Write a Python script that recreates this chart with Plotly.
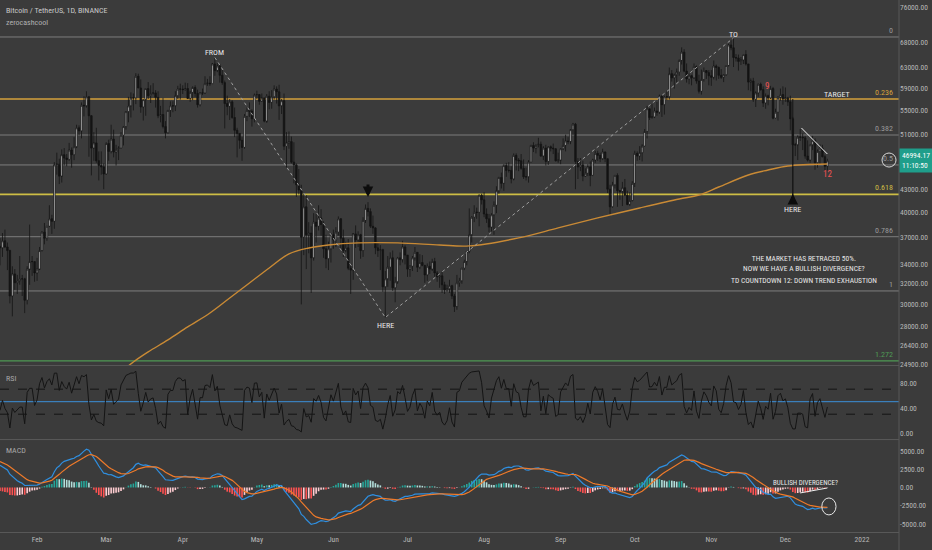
import math
import numpy as np
import pandas as pd
import plotly.graph_objects as go
from plotly.subplots import make_subplots

# ---------------- DATA (BTC/USDT daily, thousands of USDT) ----------------
# warm-up closes 2020-12-01 .. 2021-01-16 (off-screen, used for RSI/MACD)
warm_close_k = [18.76, 19.20, 19.42, 18.65, 19.15, 19.36, 19.17, 18.32, 18.55, 18.26,
                18.04, 18.81, 19.17, 19.27, 19.43, 21.34, 22.80, 23.11, 23.82, 23.46,
                22.72, 23.81, 23.22, 23.73, 24.71, 26.44, 26.25, 27.04, 27.37, 28.88,
                28.92, 29.33, 32.18, 33.00, 31.99, 33.95, 36.77, 39.43, 40.58, 40.15,
                38.16, 35.40, 34.05, 37.37, 39.14, 36.74, 35.99]

# visible candles 2021-01-17 .. 2021-12-18
close_k = [
    35.8, 36.6, 35.9, 35.5, 30.8, 33.0, 32.1, 32.3, 32.5, 32.5, 30.4, 33.5, 34.3, 34.3, 33.1,
    33.5, 35.5, 37.6, 36.9, 38.3, 39.2, 38.9, 46.4, 46.5, 44.8, 47.9, 47.4, 47.2, 48.6, 47.9,
    49.1, 52.1, 51.6, 55.9, 55.8, 57.4, 54.1, 48.9, 49.7, 47.0, 46.3, 46.1, 45.1,
    49.6, 48.4, 50.3, 48.3, 48.7, 48.9, 50.9, 52.3, 54.8, 55.8, 57.2, 57.2, 61.2, 59.0, 55.6,
    56.9, 58.9, 57.6, 58.0, 58.1, 57.3, 54.1, 54.3, 52.3, 51.3, 55.0, 55.8, 55.8, 57.6, 58.8, 58.8,
    58.7, 58.9, 57.1, 58.2, 59.1, 58.0, 56.0, 58.1, 58.1, 59.8, 59.9, 59.8, 63.6, 62.3, 63.2,
    61.4, 60.0, 56.2, 55.7, 56.5, 53.8, 51.7, 51.2, 50.1, 49.0, 54.0, 55.0, 54.9, 53.6, 57.7,
    57.8, 56.6, 57.2, 53.2, 57.5, 56.4, 57.4, 58.8, 58.3, 55.8, 56.7, 49.2, 49.7, 49.9, 46.8,
    46.4, 43.6, 42.9, 37.0, 40.7, 37.3, 37.5, 34.7, 38.8, 38.3, 39.3, 38.5, 35.7, 34.6, 35.7, 37.3,
    36.7, 37.6, 39.2, 36.9, 35.5, 35.8, 33.6, 33.4, 37.4, 36.7, 37.3, 35.5, 39.0, 40.5, 40.1,
    38.3, 38.1, 35.8, 35.5, 35.6, 31.7, 32.5, 33.7, 34.7, 31.6, 32.2, 34.7, 34.5, 35.9, 35.0,
    33.5, 33.8, 34.7, 35.3, 33.7, 34.2, 33.9, 32.9, 33.8, 33.5, 34.3, 33.1, 32.7, 32.8, 31.9,
    31.4, 31.5, 31.8, 30.8, 29.8, 32.1, 32.3, 33.6, 34.3, 35.4, 37.3, 39.4, 40.0, 40.0, 42.2, 41.6,
    39.8, 39.2, 38.2, 39.7, 40.9, 42.8, 44.6, 43.8, 46.3, 45.6, 45.6, 44.4, 47.8, 47.1, 47.0,
    45.9, 44.7, 44.7, 46.8, 49.3, 48.9, 49.3, 49.5, 47.7, 48.9, 46.9, 49.1, 48.9, 48.8, 47.0, 47.1,
    48.8, 49.3, 50.0, 49.9, 51.8, 52.7, 46.9, 46.1, 46.4, 44.8, 45.2, 46.1, 44.9, 47.1, 48.1,
    47.8, 47.3, 48.3, 47.3, 43.0, 40.7, 43.6, 44.9, 42.8, 42.7, 43.2, 42.2, 41.0, 41.5, 43.8,
    48.1, 47.7, 48.2, 49.2, 51.5, 55.3, 53.8, 53.9, 54.9, 54.7, 57.5, 56.0, 57.4, 57.4, 61.7,
    60.9, 61.5, 62.0, 64.3, 66.0, 62.2, 60.7, 61.3, 60.9, 63.1, 60.3, 58.4, 60.6, 62.3, 61.9, 61.3,
    61.0, 63.2, 62.9, 61.4, 61.0, 61.5, 63.3, 67.5, 66.9, 64.9, 64.8, 64.1, 64.4, 65.5, 63.6,
    60.1, 60.3, 56.9, 58.1, 59.7, 58.7, 56.3, 57.6, 57.2, 58.9, 53.7, 54.7, 57.3, 57.8, 57.0,
    57.2, 56.5, 53.6, 49.4, 49.4, 50.6, 50.6, 50.5, 47.7, 47.1, 49.4, 50.1, 46.7, 48.4, 48.9,
    47.6, 46.2, 46.99417]
high_k = [
    36.9, 37.5, 37.9, 36.4, 35.6, 33.8, 33.5, 32.9, 34.9, 32.9, 32.6, 33.8, 38.5, 34.9, 34.3,
    34.7, 35.9, 37.7, 38.7, 38.3, 40.9, 39.7, 46.8, 48.2, 47.3, 48.7, 48.9, 48.0, 49.7, 49.0,
    50.6, 52.6, 52.5, 56.4, 57.5, 58.4, 57.5, 54.2, 51.4, 52.1, 48.4, 48.4, 46.6,
    49.8, 50.2, 52.6, 51.8, 49.4, 49.2, 51.4, 52.4, 54.9, 57.4, 58.2, 58.0, 61.8, 61.7, 60.6,
    56.9, 58.9, 60.1, 59.5, 59.9, 58.6, 58.4, 55.8, 57.2, 53.2, 55.1, 56.6, 56.6, 58.4, 59.4, 59.8,
    59.5, 60.0, 59.9, 58.5, 59.3, 59.5, 58.7, 58.2, 58.9, 61.2, 60.7, 61.2, 63.8, 64.9, 63.8,
    63.6, 62.5, 60.4, 57.6, 57.0, 56.8, 55.5, 52.1, 51.2, 50.6, 54.4, 55.5, 56.4, 55.2, 58.0,
    58.5, 57.9, 58.0, 57.2, 57.9, 58.4, 58.6, 59.5, 59.3, 59.6, 57.0, 58.0, 51.4, 51.5, 50.7,
    49.8, 46.6, 45.8, 43.6, 42.5, 42.2, 38.8, 38.3, 39.9, 39.8, 40.9, 40.4, 38.9, 37.3, 36.5, 37.5,
    37.9, 38.2, 39.5, 39.3, 37.9, 36.5, 36.8, 34.1, 37.5, 38.4, 37.7, 37.4, 39.4, 41.0, 41.3,
    40.5, 39.6, 38.2, 36.5, 36.1, 35.7, 33.3, 34.9, 35.3, 35.5, 32.7, 34.8, 35.3, 36.6, 36.1,
    35.0, 33.9, 34.9, 35.9, 35.3, 35.1, 35.0, 33.9, 34.1, 34.3, 34.6, 34.7, 33.3, 33.1, 33.2,
    32.2, 31.9, 32.4, 31.9, 31.0, 32.9, 32.6, 33.6, 34.5, 35.4, 40.5, 39.5, 40.9, 40.6, 42.3, 42.4,
    42.6, 40.5, 39.8, 39.9, 41.4, 43.4, 44.7, 45.3, 46.5, 46.7, 46.8, 46.2, 48.1, 48.1, 47.4,
    48.0, 47.2, 46.0, 47.1, 49.4, 49.8, 49.5, 50.5, 49.9, 49.2, 49.4, 49.2, 49.3, 49.6, 48.9, 48.2,
    48.9, 50.4, 51.0, 50.6, 51.9, 52.9, 52.9, 47.4, 47.4, 47.0, 45.9, 46.5, 46.9, 47.3, 48.5,
    48.5, 48.2, 48.8, 48.4, 47.3, 43.6, 44.0, 44.9, 45.2, 42.9, 44.0, 44.4, 42.8, 42.6, 44.1,
    48.5, 48.4, 49.2, 49.5, 51.9, 55.8, 55.3, 56.1, 55.5, 56.5, 57.8, 57.7, 57.6, 58.5, 62.9,
    62.4, 61.7, 62.7, 64.5, 67.0, 66.6, 63.7, 61.7, 61.5, 63.7, 63.3, 61.5, 62.5, 62.9, 62.4, 62.4,
    62.4, 64.3, 63.5, 63.1, 62.6, 61.6, 63.3, 67.8, 68.5, 69.0, 65.6, 65.5, 65.0, 65.5, 66.4,
    63.6, 60.8, 60.9, 58.4, 59.8, 60.0, 59.3, 58.0, 57.8, 59.4, 59.2, 55.3, 57.5, 58.9, 59.3,
    59.1, 57.4, 57.6, 53.9, 49.7, 50.9, 51.9, 51.2, 50.8, 50.1, 49.5, 50.8, 50.4, 48.7, 49.5,
    49.4, 47.9, 47.3]
low_k = [
    33.9, 34.8, 35.8, 33.4, 30.1, 28.9, 31.4, 31.0, 31.9, 30.8, 29.2, 30.0, 31.9, 32.8, 32.2,
    32.3, 33.4, 35.4, 36.2, 36.6, 38.2, 37.4, 38.0, 45.0, 43.7, 43.9, 46.3, 46.2, 47.0, 46.0,
    47.1, 48.9, 50.9, 50.4, 54.0, 55.5, 47.6, 44.9, 47.0, 46.7, 44.2, 45.0, 43.0,
    45.0, 47.0, 48.1, 47.5, 46.3, 47.1, 48.9, 49.3, 51.8, 53.0, 53.8, 55.0, 56.1, 59.0, 54.6,
    53.3, 54.1, 57.0, 56.3, 57.8, 55.5, 53.7, 53.0, 52.0, 50.4, 51.2, 53.9, 54.7, 54.9, 57.0, 56.9,
    57.9, 58.5, 57.0, 56.5, 56.8, 57.4, 55.5, 55.7, 57.7, 57.9, 59.4, 59.4, 59.8, 61.3, 62.0,
    60.0, 59.6, 52.0, 54.2, 53.4, 53.6, 50.6, 47.5, 48.8, 47.0, 48.8, 53.2, 53.9, 52.3, 53.0,
    57.0, 56.0, 56.5, 53.0, 52.9, 55.2, 55.3, 56.9, 56.2, 53.4, 54.4, 48.6, 46.0, 48.8, 46.6,
    43.8, 42.0, 42.3, 30.0, 35.0, 33.5, 35.2, 31.1, 34.4, 36.4, 37.8, 37.2, 34.7, 33.6, 33.4, 34.2,
    35.7, 35.9, 37.2, 35.6, 34.8, 35.3, 33.4, 31.0, 32.4, 35.8, 35.9, 34.6, 34.8, 38.7, 39.5,
    38.1, 37.4, 35.1, 34.8, 33.4, 31.2, 28.8, 31.7, 32.3, 31.3, 30.2, 32.0, 33.9, 34.2, 34.0,
    32.7, 32.7, 33.3, 34.4, 33.2, 33.5, 33.8, 32.1, 32.3, 33.0, 33.3, 32.7, 32.2, 31.6, 31.1,
    31.0, 31.2, 31.1, 30.5, 29.3, 29.5, 31.7, 32.0, 33.4, 33.9, 35.2, 36.4, 38.8, 39.2, 38.3, 41.0,
    39.4, 38.7, 37.6, 37.5, 37.3, 39.9, 42.4, 43.1, 42.8, 44.7, 45.3, 43.8, 44.2, 45.6, 45.5,
    45.7, 44.4, 44.2, 43.9, 46.7, 48.3, 48.1, 49.0, 47.6, 47.1, 46.3, 46.4, 48.4, 48.0, 46.9, 46.7,
    46.5, 48.6, 48.4, 49.5, 49.5, 50.9, 43.0, 44.4, 45.5, 44.1, 44.7, 44.8, 43.4, 44.8, 46.7,
    47.0, 46.8, 47.1, 46.8, 42.5, 39.6, 40.6, 43.1, 40.7, 41.6, 40.8, 42.1, 40.9, 40.8, 41.4,
    43.3, 47.0, 47.1, 46.9, 49.1, 50.4, 53.4, 53.6, 53.7, 54.1, 54.4, 53.9, 54.3, 56.8, 56.9,
    60.2, 58.9, 60.1, 61.3, 63.5, 62.0, 60.0, 59.7, 59.5, 60.7, 59.8, 58.0, 57.8, 60.2, 60.7, 59.5,
    59.4, 60.6, 60.4, 60.7, 60.7, 60.1, 61.3, 63.1, 66.4, 63.0, 64.1, 62.3, 63.4, 63.6, 63.3,
    58.6, 58.4, 56.5, 55.6, 57.4, 58.5, 55.6, 55.3, 55.9, 57.0, 53.5, 53.6, 53.3, 56.7, 56.0,
    56.5, 55.8, 51.7, 42.0, 47.7, 47.1, 50.0, 48.6, 47.3, 46.9, 46.7, 48.6, 45.7, 46.0, 46.5,
    47.5, 45.5, 45.6]

# 200-period moving average
ma_dates = ['2021-03-09', '2021-03-12', '2021-03-18', '2021-03-26', '2021-04-03', '2021-04-12',
            '2021-04-20', '2021-04-28', '2021-05-06', '2021-05-14', '2021-05-22', '2021-05-30',
            '2021-06-11', '2021-06-27', '2021-07-14', '2021-07-26', '2021-08-15', '2021-08-31',
            '2021-09-16', '2021-10-03', '2021-10-19', '2021-10-27', '2021-11-04', '2021-11-16',
            '2021-11-24', '2021-12-02', '2021-12-18']
ma_vals = [24600, 25060, 25860, 26850, 27960, 29210, 30610, 32080, 33620, 35130, 35790, 36130,
           36360, 36360, 36130, 36020, 36930, 38100, 39310, 40550, 41710, 42230, 43300, 44960,
           45660, 46240, 46530]

# Fibonacci levels (label, price)
fib_labels = ['0', '0.236', '0.382', '0.5', '0.618', '0.786', '1', '1.272']
fib_prices = [69200, 57000, 50940, 46390, 42320, 37070, 31290, 25150]
fib_colors = ['#7d7d7d', '#d6a23c', '#7d7d7d', '#7d7d7d', '#cdbd45', '#7d7d7d', '#7d7d7d', '#4f9a55']
fib_widths = [1, 1.6, 1, 1, 1.6, 1, 1, 1.4]

price_ticks = [76000, 68000, 63000, 59000, 55000, 51000, 43000, 40000, 37000, 34000, 32000,
               30000, 28000, 26400, 24900]
month_ticks = ['2021-02-01', '2021-03-01', '2021-04-01', '2021-05-01', '2021-06-01', '2021-07-01',
               '2021-08-01', '2021-09-01', '2021-10-01', '2021-11-01', '2021-12-01', '2022-01-01']
month_text = ['Feb', 'Mar', 'Apr', 'May', 'Jun', 'Jul', 'Aug', 'Sep', 'Oct', 'Nov', 'Dec', '2022']

RSI_LEN = 3

# ---------------- derived series ----------------
assert len(close_k) == len(high_k) == len(low_k)
dates = pd.date_range('2021-01-17', periods=len(close_k), freq='D')
close = np.array(close_k) * 1000
open_ = np.concatenate([[warm_close_k[-1]], close_k[:-1]]) * 1000
high = np.maximum(np.array(high_k) * 1000, np.maximum(open_, close))
low = np.minimum(np.array(low_k) * 1000, np.minimum(open_, close))

all_close = np.concatenate([np.array(warm_close_k) * 1000, close])
nw = len(warm_close_k)


def rsi(c, n=14):
    d = np.diff(c)
    g = np.where(d > 0, d, 0.0)
    l = np.where(d < 0, -d, 0.0)
    ag, al = g[:n].mean(), l[:n].mean()
    out = [np.nan] * n + [100 - 100 / (1 + ag / max(al, 1e-9))]
    for i in range(n, len(d)):
        ag = (ag * (n - 1) + g[i]) / n
        al = (al * (n - 1) + l[i]) / n
        out.append(100 - 100 / (1 + ag / max(al, 1e-9)))
    return np.array(out)


def ema(x, n):
    a = 2 / (n + 1)
    out = np.empty_like(x)
    out[0] = x[0]
    for i in range(1, len(x)):
        out[i] = a * x[i] + (1 - a) * out[i - 1]
    return out


rsi_v = rsi(all_close, RSI_LEN)[nw:]
macd_all = ema(all_close, 12) - ema(all_close, 26)
sig_all = ema(macd_all, 9)
hist_all = macd_all - sig_all
macd_v, sig_v, hist_v = macd_all[nw:], sig_all[nw:], hist_all[nw:]
hist_prev = hist_all[nw - 1:-1]
hist_cols = []
for h, p in zip(hist_v, hist_prev):
    if h >= 0:
        hist_cols.append('#26A69A' if h > p else '#B2DFDB')
    else:
        hist_cols.append('#FF5252' if h < p else '#FFCDD2')

# ---------------- figure ----------------
FONT = 'Liberation Sans Narrow, Arial Narrow, Roboto Condensed, Liberation Sans, sans-serif'
BG = '#3b3b3b'
TXT = '#b8b8b8'
SEP = '#585858'

fig = make_subplots(rows=3, cols=1, shared_xaxes=True, vertical_spacing=0)

fig.add_trace(go.Candlestick(
    x=dates, open=open_, high=high, low=low, close=close,
    increasing=dict(line=dict(color='#141414', width=0.8), fillcolor='#d2d2d2'),
    decreasing=dict(line=dict(color='#141414', width=0.8), fillcolor='#141414'),
    whiskerwidth=0, showlegend=False, hoverinfo='skip'), row=1, col=1)

fig.add_trace(go.Scatter(x=ma_dates, y=ma_vals, mode='lines', line_shape='spline',
                         line=dict(color='#c98a35', width=1.4), showlegend=False,
                         hoverinfo='skip'), row=1, col=1)

# dashed swing connectors FROM -> HERE -> TO
fig.add_trace(go.Scatter(x=['2021-04-14', '2021-06-22', '2021-11-10'], y=[64900, 28800, 69000],
                         mode='lines', line=dict(color='#a0a0a0', width=1, dash='dot'),
                         showlegend=False, hoverinfo='skip'), row=1, col=1)
# December down trend line
fig.add_trace(go.Scatter(x=['2021-12-07 12:00', '2021-12-18'], y=[52070, 48000], mode='lines',
                         line=dict(color='#f0f0f0', width=1), showlegend=False,
                         hoverinfo='skip'), row=1, col=1)
# line from target down to the Dec-4 low
fig.add_trace(go.Scatter(x=['2021-12-04', '2021-12-04'], y=[57000, 42000], mode='lines',
                         line=dict(color='#141414', width=1), showlegend=False,
                         hoverinfo='skip'), row=1, col=1)

# RSI
fig.add_trace(go.Scatter(x=dates, y=rsi_v, mode='lines', line=dict(color='#141414', width=1),
                         showlegend=False, hoverinfo='skip'), row=2, col=1)

# MACD
fig.add_trace(go.Bar(x=dates, y=hist_v, marker=dict(color=hist_cols, line=dict(width=0)),
                     showlegend=False, hoverinfo='skip'), row=3, col=1)
fig.add_trace(go.Scatter(x=dates, y=macd_v, mode='lines', line=dict(color='#2f8fe0', width=1.2),
                         showlegend=False, hoverinfo='skip'), row=3, col=1)
fig.add_trace(go.Scatter(x=dates, y=sig_v, mode='lines', line=dict(color='#ee7a2a', width=1.2),
                         showlegend=False, hoverinfo='skip'), row=3, col=1)
fig.add_trace(go.Scatter(x=['2021-12-07', '2021-12-18'], y=[-750, -70], mode='lines',
                         line=dict(color='#f0f0f0', width=1), showlegend=False,
                         hoverinfo='skip'), row=3, col=1)

shapes = []
for p, c, w in zip(fib_prices, fib_colors, fib_widths):
    shapes.append(dict(type='line', xref='paper', yref='y', x0=0, x1=1, y0=p, y1=p,
                       line=dict(color=c, width=w), layer='below'))
# RSI guide lines
for v, c, d in [(70, '#141414', 'dash'), (30, '#141414', 'dash'), (50, '#3a8fd9', 'solid')]:
    shapes.append(dict(type='line', xref='paper', yref='y2', x0=0, x1=1, y0=v, y1=v,
                       line=dict(color=c, width=1, dash=d), layer='below'))
# pane separators
for yp in [0.3130, 0.1738]:
    shapes.append(dict(type='line', xref='paper', yref='paper', x0=0, x1=1, y0=yp, y1=yp,
                       line=dict(color=SEP, width=1)))
shapes.append(dict(type='line', xref='paper', yref='paper', x0=1, x1=1, y0=-0.034, y1=1,
                   line=dict(color=SEP, width=1)))
# circle around the 0.5 label
shapes.append(dict(type='circle', xref='paper', yref='paper', x0=0.9811, x1=0.9967,
                   y0=0.6860, y1=0.7124, line=dict(color='#d8d8d8', width=1)))
# circle on MACD
shapes.append(dict(type='circle', xref='x3', yref='y3', x0='2021-12-15 18:00', x1='2021-12-21 12:00',
                   y0=-3760, y1=-1440, line=dict(color='#e8e8e8', width=1)))

ann = []


def note(text, x, price, color='#e8e8e8', size=8, **kw):
    ann.append(dict(text=text, x=x, y=math.log10(price), xref='x', yref='y', showarrow=False,
                    font=dict(color=color, size=size, family=FONT), **kw))


note('FROM', '2021-04-14', 66000)
note('TO', '2021-11-10', 69840)
note('HERE', '2021-06-22', 28800, yanchor='top', yshift=-2)
note('HERE', '2021-12-04', 40300)
note('TARGET', '2021-12-22', 57730)
note('9', '2021-11-23 12:00', 59370, color='#f05252', size=9)
note('12', '2021-12-18', 45100, color='#f05252', size=9)
note('THE MARKET HAS RETRACED 50%.<br>NOW WE HAVE A BULLISH DIVERGENCE?', '2021-12-08 12:00',
     34100, size=7.5, yanchor='middle')
note('TD COUNTDOWN 12: DOWN TREND EXHAUSTION', '2021-12-08 12:00', 32280, size=7.5)

# arrows
ann.append(dict(x='2021-06-15', y=math.log10(41970), xref='x', yref='y', text='', showarrow=True,
                ax=0, ay=-14, arrowhead=2, arrowsize=0.7, arrowwidth=3, arrowcolor='#0c0c0c'))
ann.append(dict(x='2021-12-04', y=math.log10(42360), xref='x', yref='y', text='', showarrow=True,
                ax=0, ay=11, arrowhead=2, arrowsize=0.7, arrowwidth=3, arrowcolor='#0c0c0c'))

# fib labels
for lab, p, c in zip(fib_labels, fib_prices, fib_colors):
    ann.append(dict(text=lab, x=0.9955, xref='paper', y=math.log10(p), yref='y', xanchor='right',
                    yanchor='bottom', showarrow=False,
                    font=dict(color=('#9a9a9a' if c == '#7d7d7d' else c), size=8, family=FONT)))

# MACD annotation
ann.append(dict(text='BULLISH DIVERGENCE?', x='2021-12-09 06:00', y=620, xref='x3', yref='y3',
                showarrow=False, font=dict(color='#e8e8e8', size=7, family=FONT)))

# titles
ann.append(dict(text='Bitcoin / TetherUS, 1D, BINANCE', x=0.004, y=0.981, xref='paper', yref='paper',
                xanchor='left', yanchor='middle', showarrow=False,
                font=dict(color='#c8c8c8', size=8, family=FONT)))
ann.append(dict(text='zerocashcool', x=0.004, y=0.9586, xref='paper', yref='paper',
                xanchor='left', yanchor='middle', showarrow=False,
                font=dict(color='#b0b0b0', size=8, family=FONT)))
ann.append(dict(text='RSI', x=0.004, y=0.2876, xref='paper', yref='paper', xanchor='left',
                yanchor='middle', showarrow=False, font=dict(color='#a8a8a8', size=8, family=FONT)))
ann.append(dict(text='MACD', x=0.004, y=0.1523, xref='paper', yref='paper', xanchor='left',
                yanchor='middle', showarrow=False, font=dict(color='#a8a8a8', size=8, family=FONT)))

# last price label
ann.append(dict(text='46994.17<br>11:10:50', x=1.0, xref='paper', y=math.log10(close[-1]), yref='y',
                xanchor='left', yanchor='middle', showarrow=False, align='left',
                bgcolor='#1f9e8b', borderpad=2, width=29,
                font=dict(color='#ffffff', size=7.5, family=FONT)))

fig.update_layout(
    width=932, height=550, margin=dict(l=0, r=33, t=0, b=18),
    paper_bgcolor=BG, plot_bgcolor=BG, showlegend=False, hovermode=False,
    bargap=0.35, boxgap=0.12, shapes=shapes, annotations=ann,
    font=dict(family=FONT, color=TXT, size=7.5),
)
fig.update_xaxes(range=['2021-01-17', '2022-01-16'], showgrid=False, zeroline=False,
                 rangeslider_visible=False, showticklabels=False, ticks='')
fig.update_xaxes(row=3, col=1, showticklabels=True, tickvals=month_ticks, ticktext=month_text,
                 tickfont=dict(size=7.5, color=TXT, family=FONT), showline=True, linecolor=SEP)

fig.update_yaxes(row=1, col=1, type='log', range=[4.3949, 4.8903], domain=[0.3139, 1.0],
                 side='right', showgrid=False, zeroline=False, tickvals=price_ticks,
                 ticktext=['%.2f' % v for v in price_ticks], ticks='',
                 tickfont=dict(size=7.5, color=TXT, family=FONT))
fig.update_yaxes(row=2, col=1, range=[-9.6, 107], domain=[0.1748, 0.3120], side='right',
                 showgrid=False, zeroline=False, tickvals=[0, 40, 80],
                 ticktext=['0.00', '40.00', '80.00'], ticks='',
                 tickfont=dict(size=7.5, color=TXT, family=FONT))
fig.update_yaxes(row=3, col=1, range=[-6100, 6500], domain=[0.0, 0.1729], side='right',
                 showgrid=False, zeroline=False, tickvals=[5000, 2500, 0, -2500, -5000],
                 ticktext=['5000.00', '2500.00', '0.00', '-2500.00', '-5000.00'], ticks='',
                 tickfont=dict(size=7.5, color=TXT, family=FONT))

fig.write_html('out.html', config={'displayModeBar': False, 'staticPlot': True},
               post_script="document.body.style.margin='0px';document.body.style.overflow='hidden';")
